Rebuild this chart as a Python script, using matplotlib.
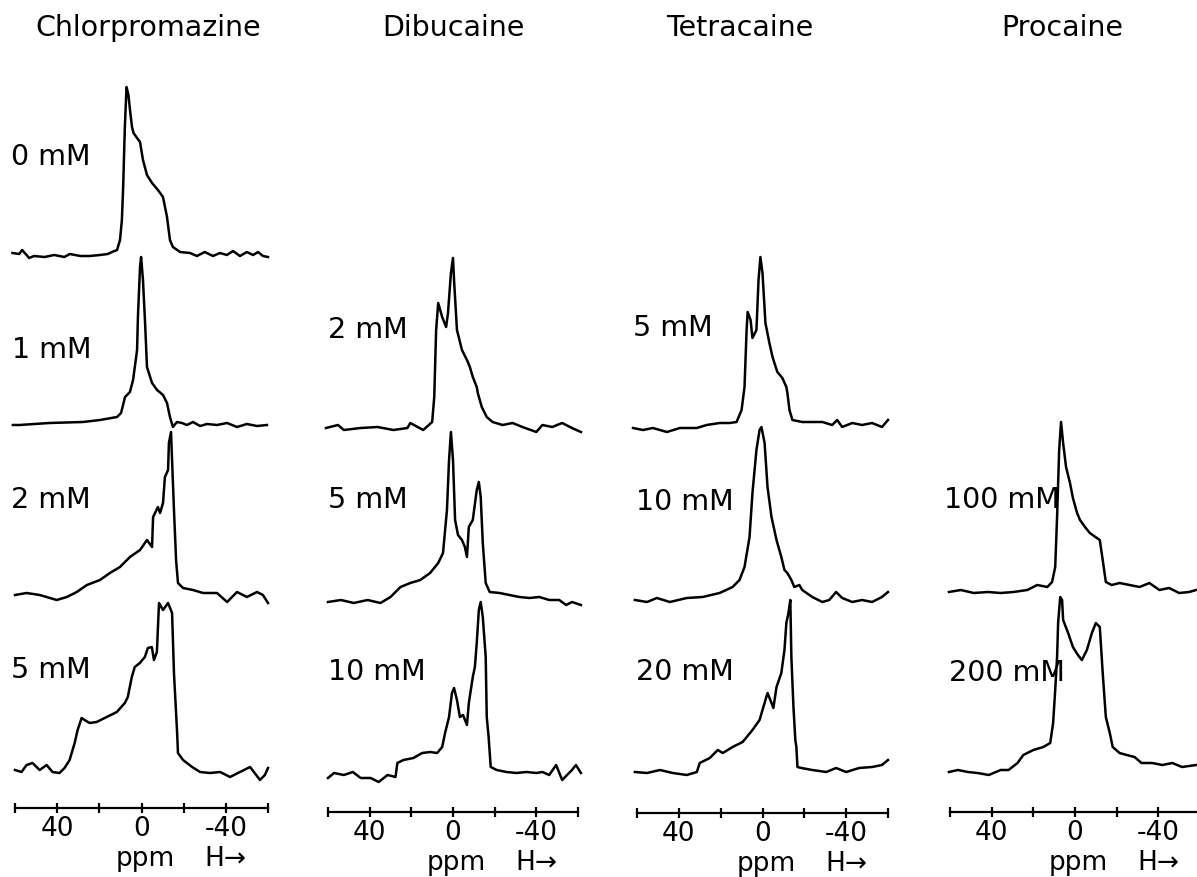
import matplotlib
matplotlib.use("Agg")
import matplotlib.pyplot as plt

# ---------------- data (ppm, relative intensity) ----------------
titles = ["Chlorpromazine", "Dibucaine", "Tetracaine", "Procaine"]
tick_values = [60, 40, 20, 0, -20, -40, -60]
tick_labels = ["", "40", "", "0", "", "-40", ""]

# Chlorpromazine
chl_labels = ["0 mM", "1 mM", "2 mM", "5 mM"]
chl_0_ppm = [61.2, 58, 56.6, 53.3, 51, 46, 41.4, 36.6, 34, 29, 24.5, 19.7, 16, 14, 11.6, 10.2, 9.3, 8.7, 7.9, 7.1,
             6.2, 5.3, 4.5, 3.8, 2.1, 0.7, -0.7, -2.6, -5, -7.8, -10.2, -12.1, -13.5, -14.9, -18.3, -23, -26.3, -30,
             -33.9, -37.2, -40.5, -43.4, -46.7, -50, -52.9, -55.3, -57.6, -60]
chl_0_int = [2, 1, 5, -3, -1, -2, 0, -2, 1, -1, -1, 0, 1, 3, 5, 15, 35, 68, 128, 168,
             160, 142, 128, 122, 117, 113, 95, 80, 72, 65, 58, 38, 15, 8, 3, 2, -1, 3,
             -1, 2, 0, 4, -1, 3, 0, 3, -1, -2]
chl_1_ppm = [61, 57.9, 43.7, 27.8, 19.7, 11.6, 9.7, 7.8, 5.5, 4, 2.1, 1.7, 0.7, 0.2, -0.7, -1.7, -2.6, -5, -7.4,
             -10.2, -12.1, -13.5, -14.9, -16.8, -19.2, -21.6, -24.4, -27.8, -31.1, -35.8, -40.6, -45.3, -50, -54.8,
             -59.5]
chl_1_int = [0, 0, 2, 3, 5, 8, 12, 28, 33, 45, 75, 108, 158, 168, 145, 102, 58, 42, 35,
             30, 22, 8, -2, 3, 2, 0, 3, -1, 1, 0, 2, -2, 1, -1,
             0]
chl_2_ppm = [60, 54.5, 48.3, 40.2, 35.4, 30.7, 25.9, 19.7, 15, 10.2, 5.5, 0.7, -2.6, -5, -5.5, -7.8, -8.8, -10.2,
             -11.1, -12.6, -13, -14, -14.5, -15.4, -16.4, -17.3, -19.7, -24.4, -29.2, -35.8, -40.6, -45.3, -50,
             -54.8, -57.6, -60]
chl_2_int = [0, 2, 0, -5, -2, 3, 10, 15, 22, 28, 38, 45, 55, 48, 78, 88, 82, 92,
             118, 125, 152, 163, 135, 85, 35, 12, 7, 5, 2, 2, -7, 3, -2,
             3, 0, -8]
chl_5_ppm = [60, 56.9, 54.5, 51.7, 48.3, 45, 42.2, 38.9, 36.5, 34.1, 31.7, 30.3, 28.4, 27, 24.6, 21.3, 16.5, 11.7,
             7.9, 6.5, 4.6, 3.2, 0.8, -1.6, -3, -4.9, -5.9, -7.3, -8.3, -10.2, -12.6, -14.5, -15.4, -16.9, -17.3,
             -19.7, -24, -27.8, -32.5, -37.3, -42, -46.7, -51.5, -56.2, -58.5, -60]
chl_5_int = [0, -2, 5, 7, 0, 5, -2, -3, 2, 10, 27, 40, 52, 50, 47, 48, 53, 58,
             67, 73, 93, 103, 107, 113, 122, 123, 110, 118, 167, 160, 167, 157, 97, 37, 17,
             10, 3, -2, -3, -2, -7, -2, 3, -10, -5, 2]

# Dibucaine
dib_labels = ["2 mM", "5 mM", "10 mM"]
dib_2_ppm = [61, 55.2, 52.4, 44.3, 36.2, 28.6, 21.9, 20.5, 14.3, 10, 9, 8.1, 7.1, 5.2, 3.3, 2.4, 1, 0, -0.5, -1.9,
             -4.3, -6.7, -8.1, -9.5, -11.4, -11.9, -13.8, -16.2, -19, -23.8, -28.6, -33.3, -40, -42.9, -47.6, -52.4,
             -57.1, -61.4]
dib_2_int = [0, 3, -2, 0, 1, -2, 0, 5, -2, 6, 31, 98, 125, 111, 101, 115, 155, 170, 148, 98,
             78, 68, 61, 51, 41, 35, 21, 11, 6, 3, 5, 1, -4, 3, 1, 5,
             0, -4]
dib_5_ppm = [60, 53.8, 47.6, 41, 34.8, 30, 25.2, 20.5, 15.7, 11, 7.1, 4.8, 2.9, 1.9, 1, 0, -1, -2.4, -4.3, -5.7,
             -6.7, -7.6, -9.5, -11.4, -12.4, -13.3, -14.3, -15.7, -17.6, -22.4, -27.1, -31.9, -36.7, -41.4, -46.2,
             -51, -54.3, -57.1, -61.4]
dib_5_int = [0, 2, -1, 2, -1, 5, 15, 19, 22, 29, 39, 49, 92, 142, 170, 142, 82, 67, 62, 55,
             45, 75, 82, 112, 120, 105, 59, 19, 10, 9, 7, 5, 4, 5, 2,
             2, -3, 0, -3]
dib_10_ppm = [60, 57.1, 52.4, 48.1, 44.3, 39.5, 35.7, 31.4, 27.6, 26.7, 23.8, 19, 14.8, 11, 7.6, 5.2, 3.8, 1.9, 0.5,
              -0.5, -1.9, -3.3, -4.8, -6.7, -7.6, -9.5, -10.5, -11.4, -12.4, -13.3, -14.3, -15.7, -16.2, -17.1,
              -18.1, -21, -25.7, -30.5, -35.2, -40, -42.9, -46.2, -49.5, -52.4, -57.1, -59, -61.4]
dib_10_int = [-1, 4, 2, 5, -1, -1, -5, 2, 0, 14, 17, 19, 24, 25, 24, 30, 44, 60, 84,
              89, 77, 60, 62, 52, 74, 100, 110, 134, 167, 175, 160, 120, 60, 40,
              10, 7, 5, 4, 5, 4, 5, 2, 12, -3, 7, 12, 4]

# Tetracaine
tet_labels = ["5 mM", "10 mM", "20 mM"]
tet_5_ppm = [61.9, 57.1, 52.4, 45.7, 39.5, 31.4, 26.7, 20.5, 15.7, 12.4, 10, 8.6, 7.6, 7.1, 5.7, 4.8, 2.9, 1.9, 1, 0,
             -1.4, -3.3, -4.8, -5.7, -7.1, -9.5, -11.4, -11.9, -12.9, -14.3, -19, -23.8, -28.6, -33.3, -35.7, -38.1,
             -42.9, -47.6, -52.4, -57.1, -60]
tet_5_int = [2, 0, 2, -2, 2, 2, 5, 7, 7, 8, 20, 43, 100, 118, 110, 92, 100, 150, 173, 157,
             107, 87, 73, 67, 58, 52, 43, 37, 20, 10, 8, 8, 8, 5, 10, 3,
             7, 5, 7, 3, 10]
tet_10_ppm = [61, 55.2, 50.5, 44.3, 36.2, 28.6, 20.5, 14.3, 11, 8.6, 6.2, 4.8, 2.9, 1.4, 0.5, -1, -2.4, -4.3, -6.7,
              -9, -10.5, -11.9, -13.8, -15.2, -17.6, -19, -23.8, -28.6, -31.9, -35.2, -38.1, -42.9, -47.6, -52.4,
              -57.1, -60]
tet_10_int = [1, -1, 3, -1, 3, 4, 8, 14, 21, 34, 64, 108, 151, 171, 174, 158, 114, 84, 61,
              44, 31, 28, 21, 14, 16, 11, 4, -1, 1, 9, 3, -1, 1, -1,
              4, 9]
tet_20_ppm = [61, 55.2, 49, 42.9, 36.2, 31.4, 30, 25.2, 21.4, 19, 14.3, 9.5, 4.8, 1.4, 0, -2.4, -4.3, -5.2, -6.7, -9,
              -10.5, -11.4, -12.4, -13.3, -13.8, -14.8, -15.7, -16.2, -16.7, -18.6, -23.8, -30.5, -35.2, -40, -46.2,
              -52.4, -57.1, -60]
tet_20_int = [0, -1, 2, -1, -3, 0, 9, 14, 22, 19, 25, 30, 42, 52, 62, 79, 69, 64, 85, 99,
              122, 149, 159, 172, 115, 65, 32, 25, 5, 4, 2, 0, 4, 0, 4,
              5, 7, 12]

# Procaine
pro_labels = ["100 mM", "200 mM"]
pro_100_ppm = [60.5, 54.8, 48.6, 41.9, 35.7, 29.5, 22.9, 18.1, 13.3, 11, 9.5, 8.6, 7.6, 6.7, 5.7, 4.3, 2.4, 1, -1,
               -2.4, -4.8, -7.1, -10.5, -11.9, -13.3, -14.8, -17.6, -21.4, -26.2, -31, -35.7, -40.5, -45.2, -50,
               -54.8, -58.1]
pro_100_int = [0, 2, -1, 0, -1, 0, 2, 7, 5, 10, 25, 75, 142, 170, 149, 125, 109, 94, 79,
               72, 65, 59, 54, 52, 32, 10, 7, 9, 7, 5, 9, 2, 4, -1,
               0, 2]
pro_200_ppm = [60.5, 56.2, 51.4, 46.7, 41.4, 35.7, 31.9, 27.6, 24.8, 20, 15.2, 11.9, 10.5, 9.5, 8.6, 8.1, 7.1, 6.2,
               5.7, 3.3, 1, -1.4, -3.3, -5.7, -8.1, -10, -11.9, -13.3, -14.8, -16.7, -18.1, -21.4, -24.8, -28.6,
               -31.9, -37.1, -41.9, -46.7, -51.4, -58.1]
pro_200_int = [0, 2, 0, -1, -3, 2, 2, 9, 17, 22, 25, 29, 49, 82, 115, 149, 175, 172,
               152, 139, 125, 117, 112, 122, 139, 149, 145, 99, 55, 39, 25, 19, 17, 15,
               9, 9, 7, 9, 5, 7]

# ---------------- layout (pixels of the 1197x877 canvas) ----------------
W, H = 1197, 877
columns = [
    dict(title=titles[0], left=15, right=268, axis=808, title_x=-3,
         traces=[(chl_0_ppm, chl_0_int), (chl_1_ppm, chl_1_int), (chl_2_ppm, chl_2_int), (chl_5_ppm, chl_5_int)],
         labels=chl_labels, offsets=[553, 383, 213, 38], label_dy=[98, 75, 95, 100],
         label_x=[61.7, 61.5, 61.7, 61.7]),
    dict(title=titles[1], left=328, right=578, axis=812, title_x=0,
         traces=[(dib_2_ppm, dib_2_int), (dib_5_ppm, dib_5_int), (dib_10_ppm, dib_10_int)],
         labels=dib_labels, offsets=[384, 210, 35], label_dy=[98, 102, 105],
         label_x=[60, 60, 60]),
    dict(title=titles[2], left=637, right=888, axis=813, title_x=11,
         traces=[(tet_5_ppm, tet_5_int), (tet_10_ppm, tet_10_int), (tet_20_ppm, tet_20_int)],
         labels=tet_labels, offsets=[383, 212, 41], label_dy=[102, 99, 100],
         label_x=[62, 60.5, 60.5]),
    dict(title=titles[3], left=950, right=1200, axis=812, title_x=6,
         traces=[(pro_100_ppm, pro_100_int), (pro_200_ppm, pro_200_int)],
         labels=pro_labels, offsets=[220, 40], label_dy=[92, 99],
         label_x=[62.9, 60.5]),
]

plt.rcParams["font.family"] = ["DejaVu Sans"]
FS = 20.5       # titles and concentration labels
FS_AX = 19      # tick labels and axis caption
PX_PER_PT = 100 / 72
fig = plt.figure(figsize=(W / 100, H / 100), dpi=100)
fig.patch.set_facecolor("white")

for col in columns:
    ax = fig.add_axes([col["left"] / W, (H - col["axis"]) / H,
                       (col["right"] - col["left"]) / W, col["axis"] / H])
    ax.set_xlim(60, -60)
    ax.set_ylim(0, col["axis"])
    ax.patch.set_alpha(0)
    for s in ["top", "left", "right"]:
        ax.spines[s].set_visible(False)
    ax.spines["bottom"].set_linewidth(1.6)
    ax.set_yticks([])
    ax.set_xticks(tick_values)
    ax.set_xticklabels(tick_labels, fontsize=FS_AX)
    ax.tick_params(axis="x", direction="inout", length=7, width=1.6, pad=2)

    for (ppm, inten), off in zip(col["traces"], col["offsets"]):
        ax.plot(ppm, [v + off for v in inten], color="black", lw=1.8, clip_on=False,
                solid_joinstyle="round")
    for lab, off, dy, lx in zip(col["labels"], col["offsets"], col["label_dy"], col["label_x"]):
        ax.text(lx, off + dy, lab, fontsize=FS, ha="left", va="center", clip_on=False)

    ax.text(col["title_x"], col["axis"] - 28, col["title"], fontsize=FS, ha="center", va="center",
            clip_on=False)
    base_off = -58 / PX_PER_PT
    ax.annotate("ppm", xy=(-1.7, 0), xycoords=("data", "axes fraction"), xytext=(0, base_off),
                textcoords="offset points", ha="center", va="baseline", fontsize=FS_AX, annotation_clip=False)
    ax.annotate("H\u2192", xy=(-40, 0), xycoords=("data", "axes fraction"), xytext=(0, base_off),
                textcoords="offset points", ha="center", va="baseline", fontsize=FS_AX, annotation_clip=False)

fig.savefig("out.png", dpi=100, facecolor="white")
